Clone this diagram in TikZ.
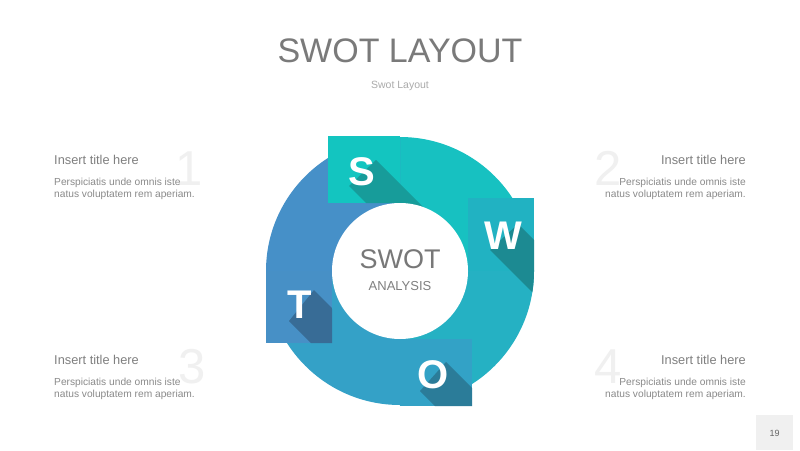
\documentclass[tikz,border=0pt]{standalone}
\usepackage{fontspec}
\setmainfont{Liberation Sans}
\definecolor{quarS}{HTML}{17C1C1}
\definecolor{quarW}{HTML}{25B1C3}
\definecolor{quarO}{HTML}{34A1C7}
\definecolor{quarT}{HTML}{4690C8}
\definecolor{tabS}{HTML}{13C5C0}
\definecolor{tabW}{HTML}{21B2C2}
\definecolor{tabO}{HTML}{33A2C6}
\definecolor{tabT}{HTML}{4790C6}
\definecolor{shS}{HTML}{179C9A}
\definecolor{shW}{HTML}{1C8A92}
\definecolor{shO}{HTML}{2B7C99}
\definecolor{shT}{HTML}{386C96}
\tikzset{heading/.style={inner sep=0pt, anchor=base, text=black!52, font=\fontsize{34}{36}\selectfont}}
\tikzset{subheading/.style={inner sep=0pt, anchor=base, text=black!33, font=\fontsize{10.5}{12}\selectfont}}
\tikzset{swotletter/.style={inner sep=0pt, text=white, font=\fontsize{40}{40}\selectfont\bfseries}}
\tikzset{itemtitle/.style={inner sep=0pt, text=black!50, font=\fontsize{12.8}{14}\selectfont}}
\tikzset{itembody/.style={inner sep=0pt, text=black!46, font=\fontsize{10.2}{13}\selectfont}}
\tikzset{bignum/.style={inner sep=0pt, anchor=base, text=black!6, font=\fontsize{49}{50}\selectfont}}
\begin{document}
\begin{tikzpicture}[x=1pt,y=-1pt]

    \useasboundingbox (0,0) rectangle (800,450);
    \fill[white] (0,0) rectangle (800,450);

    \node[heading] (title) at (400,62) {SWOT LAYOUT};
    \node[subheading] (subtitle) at (400,88) {Swot Layout};

    \coordinate (c) at (400,271);

    % ring, one quarter each
    \fill[quarS] (c) -- ++(270:134) arc[start angle=270, end angle=360, radius=134] -- cycle;
    \fill[quarW] (c) -- ++(0:134)   arc[start angle=0,   end angle=90,  radius=134] -- cycle;
    \fill[quarO] (c) -- ++(90:134)  arc[start angle=90,  end angle=180, radius=134] -- cycle;
    \fill[quarT] (c) -- ++(180:134) arc[start angle=180, end angle=270, radius=134] -- cycle;

    % tabs
    \fill[tabS] (328,136) rectangle (400,203);
    \fill[tabW] (468,198) rectangle (534,271);
    \fill[tabO] (400,339) rectangle (472,406);
    \fill[tabT] (266,271) rectangle (332,343);

    % long shadows
    \begin{scope}
      \clip (328,136) rectangle (400,203) (c) -- ++(270:134) arc[start angle=270, end angle=360, radius=134] -- cycle;
      \fill[shS] (349,186) -- (376,160) -- (456,240) -- (429,266) -- cycle;
    \end{scope}
    \begin{scope}
      \clip (468,198) rectangle (534,271) (c) -- ++(0:134) arc[start angle=0, end angle=90, radius=134] -- cycle;
      \fill[shW] (490,250) -- (518,224) -- (598,304) -- (570,330) -- cycle;
    \end{scope}
    \begin{scope}
      \clip (400,339) rectangle (472,406) (c) -- ++(90:134) arc[start angle=90, end angle=180, radius=134] -- cycle;
      \fill[shO] (420,391) -- (446,362) -- (526,442) -- (500,471) -- cycle;
    \end{scope}
    \begin{scope}
      \clip (266,271) rectangle (332,343) (c) -- ++(180:134) arc[start angle=180, end angle=270, radius=134] -- cycle;
      \fill[shT] (289,321) -- (314,290) -- (394,370) -- (369,401) -- cycle;
    \end{scope}

    \node[swotletter] (ls) at (362,172) {S};
    \node[swotletter] (lw) at (503,236) {W};
    \node[swotletter] (lo) at (433,375) {O};
    \node[swotletter] (lt) at (300,305) {T};

    \fill[white] (c) circle[radius=68];
    \node[inner sep=0pt, anchor=base, text=black!53, font=\fontsize{27}{28}\selectfont] (swot) at (400,268) {SWOT};
    \node[inner sep=0pt, anchor=base, text=black!50, font=\fontsize{13}{14}\selectfont] (analysis) at (400,290) {ANALYSIS};

    % four items
    \node[bignum] (n1) at (189,185) {1};
    \node[bignum] (n2) at (608,185) {2};
    \node[bignum] (n3) at (192,383) {3};
    \node[bignum] (n4) at (608,383) {4};

    \node[itemtitle, anchor=base west] (h1) at (54,164) {Insert title here};
    \node[itembody, anchor=base west] (b1a) at (54,185) {Perspiciatis unde omnis iste};
    \node[itembody, anchor=base west] (b1b) at (54,197) {natus voluptatem rem aperiam.};

    \node[itemtitle, anchor=base east] (h2) at (746,164) {Insert title here};
    \node[itembody, anchor=base east] (b2a) at (746,185) {Perspiciatis unde omnis iste};
    \node[itembody, anchor=base east] (b2b) at (746,197) {natus voluptatem rem aperiam.};

    \node[itemtitle, anchor=base west] (h3) at (54,364) {Insert title here};
    \node[itembody, anchor=base west] (b3a) at (54,385) {Perspiciatis unde omnis iste};
    \node[itembody, anchor=base west] (b3b) at (54,397) {natus voluptatem rem aperiam.};

    \node[itemtitle, anchor=base east] (h4) at (746,364) {Insert title here};
    \node[itembody, anchor=base east] (b4a) at (746,385) {Perspiciatis unde omnis iste};
    \node[itembody, anchor=base east] (b4b) at (746,397) {natus voluptatem rem aperiam.};

    % page number
    \fill[black!6] (756,415) rectangle (793,450);
    \node[inner sep=0pt, text=black!60, font=\fontsize{9}{10}\selectfont] (page) at (774.5,433) {19};

  \end{tikzpicture}
\end{document}
